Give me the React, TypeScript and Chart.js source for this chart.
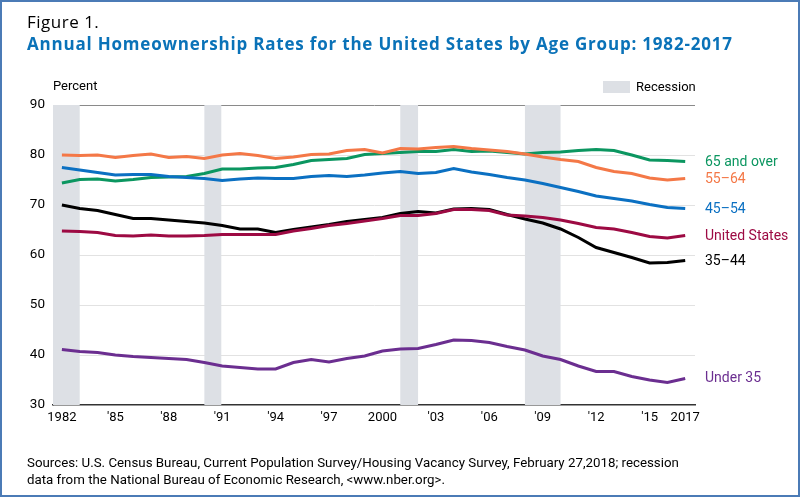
import React, { useEffect, useRef } from 'react';
import { Chart, registerables } from 'chart.js';

Chart.register(...registerables);

const years = [
  1982, 1983, 1984, 1985, 1986, 1987, 1988, 1989, 1990, 1991, 1992, 1993,
  1994, 1995, 1996, 1997, 1998, 1999, 2000, 2001, 2002, 2003, 2004, 2005,
  2006, 2007, 2008, 2009, 2010, 2011, 2012, 2013, 2014, 2015, 2016, 2017,
];

const under35 = [
  41.1, 40.7, 40.5, 40.0, 39.7, 39.5, 39.3, 39.1, 38.5, 37.8, 37.5, 37.2,
  37.2, 38.5, 39.1, 38.6, 39.3, 39.8, 40.8, 41.2, 41.3, 42.1, 43.0, 42.9,
  42.5, 41.7, 41.0, 39.8, 39.1, 37.8, 36.7, 36.7, 35.7, 35.0, 34.5, 35.3,
];

const age35to44 = [
  70.0, 69.3, 68.9, 68.1, 67.3, 67.3, 67.0, 66.7, 66.4, 65.9, 65.2, 65.2,
  64.5, 65.1, 65.6, 66.1, 66.7, 67.1, 67.5, 68.3, 68.7, 68.4, 69.2, 69.3,
  69.1, 68.1, 67.2, 66.4, 65.2, 63.5, 61.5, 60.5, 59.5, 58.4, 58.5, 58.9,
];

const unitedStates = [
  64.8, 64.7, 64.5, 63.9, 63.8, 64.0, 63.8, 63.8, 63.9, 64.1, 64.1, 64.1,
  64.1, 64.8, 65.3, 65.9, 66.3, 66.8, 67.3, 67.9, 67.9, 68.3, 69.1, 69.1,
  68.9, 68.0, 67.8, 67.5, 67.0, 66.3, 65.5, 65.2, 64.5, 63.7, 63.4, 63.9,
];

const age45to54 = [
  77.5, 77.0, 76.5, 76.0, 76.1, 76.1, 75.7, 75.5, 75.3, 74.9, 75.2, 75.4,
  75.3, 75.3, 75.7, 75.9, 75.7, 76.0, 76.4, 76.7, 76.3, 76.5, 77.3, 76.6,
  76.1, 75.5, 75.0, 74.3, 73.5, 72.7, 71.8, 71.3, 70.8, 70.1, 69.5, 69.3,
];

const age55to64 = [
  80.0, 79.9, 80.0, 79.5, 79.9, 80.2, 79.5, 79.7, 79.3, 80.0, 80.3, 79.9,
  79.3, 79.6, 80.1, 80.2, 80.9, 81.1, 80.4, 81.3, 81.2, 81.5, 81.7, 81.3,
  81.0, 80.7, 80.2, 79.6, 79.1, 78.7, 77.5, 76.7, 76.3, 75.4, 75.0, 75.3,
];

const age65plus = [
  74.4, 75.1, 75.2, 74.8, 75.1, 75.5, 75.6, 75.7, 76.3, 77.2, 77.2, 77.4,
  77.5, 78.1, 78.9, 79.1, 79.3, 80.1, 80.3, 80.5, 80.7, 80.7, 81.1, 80.7,
  80.8, 80.5, 80.2, 80.5, 80.6, 80.9, 81.1, 80.9, 80.0, 79.0, 78.9, 78.7,
];

const recessionStart = [1981.5, 1990.0, 2001.0, 2008.0];
const recessionEnd = [1983.0, 1990.95, 2002.0, 2010.0];

const tickYears = [1982, 1985, 1988, 1991, 1994, 1997, 2000, 2003, 2006, 2009, 2012, 2015, 2017];
const tickLabels = ['1982', "'85", "'88", "'91", "'94", "'97", '2000', "'03", "'06", "'09", "'12", "'15", '2017'];
const yTicks = [30, 40, 50, 60, 70, 80, 90];

const GREEN = '#0b9660';
const ORANGE = '#f47847';
const BLUE = '#0b70c2';
const MAROON = '#9d0a43';
const BLACK = '#000000';
const PURPLE = '#6b2e90';
const GRAY_BAND = '#dde0e5';
const FONT = 'Roboto, "Open Sans", sans-serif';

// right-hand series labels (text, colour, baseline y)
const seriesLabels: [string, string, number][] = [
  ['65 and over', GREEN, 166],
  ['55\u201364', ORANGE, 183],
  ['45\u201354', BLUE, 213],
  ['United States', MAROON, 240],
  ['35\u201344', BLACK, 265],
  ['Under 35', PURPLE, 382],
];

const toPoints = (vals: number[]) => vals.map((v, i) => ({ x: years[i], y: v }));

const line = (label: string, vals: number[], color: string) => ({
  label,
  data: toPoints(vals),
  borderColor: color,
  backgroundColor: color,
  borderWidth: 3,
  pointRadius: 0,
  tension: 0,
  fill: false,
});

const recessionPlugin = {
  id: 'recessions',
  beforeDatasetsDraw(chart: any) {
    const { ctx, chartArea, scales } = chart;
    ctx.save();
    ctx.fillStyle = GRAY_BAND;
    recessionStart.forEach((s, i) => {
      const x1 = Math.max(scales.x.getPixelForValue(s), chartArea.left);
      const x2 = scales.x.getPixelForValue(recessionEnd[i]);
      ctx.fillRect(x1, chartArea.top, x2 - x1, chartArea.bottom - chartArea.top);
    });
    ctx.restore();
  },
};

const decorPlugin = {
  id: 'decor',
  afterDraw(chart: any) {
    const { ctx } = chart;
    ctx.save();
    // frame
    ctx.strokeStyle = '#4b7bb6';
    ctx.lineWidth = 2;
    ctx.strokeRect(1, 1, 798, 495);

    ctx.textBaseline = 'alphabetic';
    ctx.textAlign = 'left';
    ctx.fillStyle = '#000';
    ctx.font = '17px "Open Sans", sans-serif';
    ctx.letterSpacing = '0.5px';
    ctx.fillText('Figure 1.', 27, 28);
    ctx.fillStyle = '#0a72b8';
    ctx.font = 'bold 17px "Open Sans", sans-serif';
    ctx.letterSpacing = '0.8px';
    ctx.fillText('Annual Homeownership Rates for the United States by Age Group: 1982-2017', 27, 50);
    ctx.letterSpacing = '0px';

    ctx.fillStyle = '#000';
    ctx.font = `13px ${FONT}`;
    ctx.fillText('Percent', 53, 90);

    ctx.fillStyle = GRAY_BAND;
    ctx.fillRect(603, 81, 27, 12);
    ctx.fillStyle = '#000';
    ctx.fillText('Recession', 636, 91);

    ctx.font = `14px ${FONT}`;
    seriesLabels.forEach(([t, c, y]) => {
      ctx.fillStyle = c;
      ctx.fillText(t, 705, y);
    });

    ctx.fillStyle = '#000';
    ctx.font = `13.3px ${FONT}`;
    ctx.fillText(
      'Sources: U.S. Census Bureau, Current Population Survey/Housing Vacancy Survey, February 27,2018; recession',
      27,
      467
    );
    ctx.fillText('data from the National Bureau of Economic Research, <www.nber.org>.', 27, 484);
    ctx.restore();
  },
};

const App: React.FC = () => {
  const chartRef = useRef<HTMLCanvasElement>(null);
  const chartInstance = useRef<Chart | null>(null);

  useEffect(() => {
    document.body.style.margin = '0';
    if (!chartRef.current) return;
    if (chartInstance.current) chartInstance.current.destroy();
    const ctx = chartRef.current.getContext('2d');
    if (!ctx) return;

    chartInstance.current = new Chart(ctx, {
      type: 'line',
      data: {
        datasets: [
          line('United States', unitedStates, MAROON),
          line('55-64', age55to64, ORANGE),
          line('45-54', age45to54, BLUE),
          line('65 and over', age65plus, GREEN),
          line('35-44', age35to44, BLACK),
          line('Under 35', under35, PURPLE),
        ],
      },
      options: {
        responsive: false,
        animation: false,
        events: [],
        layout: { padding: { left: 0, top: 105, right: 105, bottom: 0 } },
        plugins: {
          legend: { display: false },
          tooltip: { enabled: false },
        },
        scales: {
          x: {
            type: 'linear',
            min: 1981.5,
            max: 2017.55,
            afterFit: (s: any) => {
              s.height = 92;
            },
            afterBuildTicks: (axis: any) => {
              axis.ticks = tickYears.map((v) => ({ value: v }));
            },
            ticks: {
              autoSkip: false,
              maxRotation: 0,
              padding: 5,
              color: '#000',
              font: { family: FONT, size: 13 },
              callback: (_v: any, i: number) => tickLabels[i],
            },
            grid: { display: false, drawTicks: false },
            border: { display: true, color: '#333', width: 1.5 },
          },
          y: {
            min: 30,
            max: 90,
            afterFit: (s: any) => {
              s.width = 53;
            },
            afterBuildTicks: (axis: any) => {
              axis.ticks = yTicks.map((v) => ({ value: v }));
            },
            ticks: {
              padding: 8,
              color: '#000',
              font: { family: FONT, size: 13.5 },
            },
            grid: {
              drawTicks: false,
              lineWidth: 1,
              color: (c: any) =>
                c.tick && c.tick.value === 90 ? '#8a8a8a' : c.tick && c.tick.value === 30 ? 'rgba(0,0,0,0)' : '#e2e2e2',
            },
            border: { display: true, color: '#777', width: 1 },
          },
        },
      },
      plugins: [recessionPlugin, decorPlugin],
    });

    return () => {
      if (chartInstance.current) {
        chartInstance.current.destroy();
        chartInstance.current = null;
      }
    };
  }, []);

  return (
    <div style={{ width: 800, height: 497, background: '#fff' }}>
      <canvas ref={chartRef} width={800} height={497} style={{ display: 'block' }}></canvas>
    </div>
  );
};

export default App;
